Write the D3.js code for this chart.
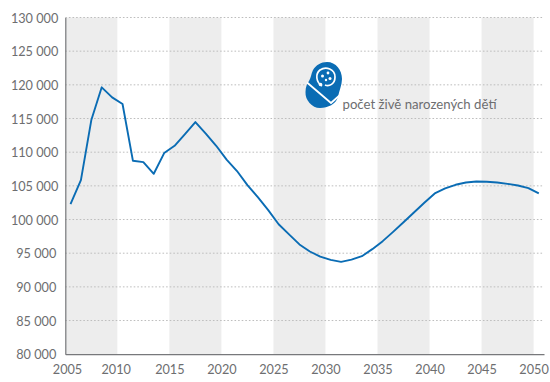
<!DOCTYPE html>
<html><head><meta charset="utf-8">
<script src="https://cdn.jsdelivr.net/npm/d3@7"></script>
<style>html,body{margin:0;padding:0;background:#fff}svg{display:block}
text{font-family:Lato,sans-serif;fill:#6d6e70}</style></head><body>
<svg id="c" width="550" height="382"></svg>
<script>
const years=[2005.5,2006.5,2007.5,2008.5,2009.5,2010.5,2011.5,2012.5,2013.5,2014.5,2015.5,2016.5,2017.5,2018.5,2019.5,2020.5,2021.5,2022.5,2023.5,2024.5,2025.5,2026.5,2027.5,2028.5,2029.5,2030.5,2031.5,2032.5,2033.5,2034.5,2035.5,2036.5,2037.5,2038.5,2039.5,2040.5,2041.5,2042.5,2043.5,2044.5,2045.5,2046.5,2047.5,2048.5,2049.5,2050.5];
const births=[102300,105850,114770,119630,118140,117150,108720,108530,106790,109870,110950,112690,114470,112760,110950,108900,107200,105100,103330,101400,99300,97800,96300,95250,94500,94000,93720,94050,94550,95600,96790,98170,99600,101050,102480,103870,104620,105160,105500,105650,105600,105500,105300,105050,104670,103870];
const xTicks=[2005,2010,2015,2020,2025,2030,2035,2040,2045,2050];
const yTicks=[80000,85000,90000,95000,100000,105000,110000,115000,120000,125000,130000];
const bandStarts=[2005,2015,2025,2035,2045];
const legendLabel="počet živě narozených dětí";

const svg=d3.select("#c");
const x=d3.scaleLinear().domain([2005,2051]).range([65.3,544]);
const y=d3.scaleLinear().domain([80000,130000]).range([354.2,17.5]);
const axisCol="#77787b";

svg.append("g").selectAll("rect").data(bandStarts).join("rect")
 .attr("x",d=>x(d)).attr("width",d=>x(d+5)-x(d))
 .attr("y",y(130000)).attr("height",y(80000)-y(130000)).attr("fill","#ededed");

svg.append("g").selectAll("line").data(yTicks.slice(1)).join("line")
 .attr("x1",x(2005)).attr("x2",x(2051)).attr("y1",d=>y(d)).attr("y2",d=>y(d))
 .attr("stroke","#bdbdbd").attr("stroke-width",1).attr("stroke-dasharray","1.6 2");

const fmt=d=>d3.format(",")(d).replace(",","\u00a0");
const yAxis=d3.axisLeft(y).tickValues(yTicks).tickFormat(fmt).tickSize(0).tickPadding(7);
const gy=svg.append("g").attr("transform",`translate(${x(2005)},0)`).call(yAxis);
const xAxis=d3.axisBottom(x).tickValues(xTicks).tickFormat(d3.format("d")).tickSize(0).tickPadding(11);
const gx=svg.append("g").attr("transform",`translate(0,${y(80000)})`).call(xAxis);
[gy,gx].forEach(g=>{g.selectAll("text").attr("font-size",12.7).style("font-family","Lato,sans-serif").attr("fill","#6d6e70");
 g.select(".domain").attr("stroke",axisCol).attr("stroke-width",1.2);});
gy.selectAll("text").attr("dy","0.36em").attr("dx",d=>d<100000?-2:0);
gx.selectAll("text").attr("dx",d=>d===2005?1.7:d===2010?-1.7:0);

svg.append("path").datum(years.map((t,i)=>[t,births[i]]))
 .attr("fill","none").attr("stroke","#0a6cb4").attr("stroke-width",1.9).attr("stroke-linejoin","round")
 .attr("d",d3.line().x(d=>x(d[0])).y(d=>y(d[1])));

svg.append("text").attr("x",342.5).attr("y",109).attr("font-size",13.2).text(legendLabel);

// baby icon
const ic=svg.append("g");
ic.append("path").attr("fill","#0a6cb4")
 .attr("d","M327,62 C336,62 342,70 342,79 C342,85 339,91 338,97 C336,104 328,108 320,108 C312,108 305,100 305.5,92 C305.5,87 307,84 309,81 C311,78 311,74 313,70 C316,65 321,62 327,62 Z");
ic.append("path").attr("fill","none").attr("stroke","#fff").attr("stroke-width",1.8)
 .attr("d","M307,82.5 L331,103 L340,95");
ic.append("path").attr("fill","none").attr("stroke","#fff").attr("stroke-width",1.7)
 .attr("d","M322,86 C316,82 315,74 320,70 C326,66 335,69 335,77 C335,84 329,87 325,85");
ic.selectAll("circle").data([[322.5,76,1.5],[328,73,1.4],[330,78.5,1.5],[326,80,1.2],[320.5,84.5,1.8]]).join("circle")
 .attr("cx",d=>d[0]).attr("cy",d=>d[1]).attr("r",d=>d[2]).attr("fill","#fff");
</script></body></html>
